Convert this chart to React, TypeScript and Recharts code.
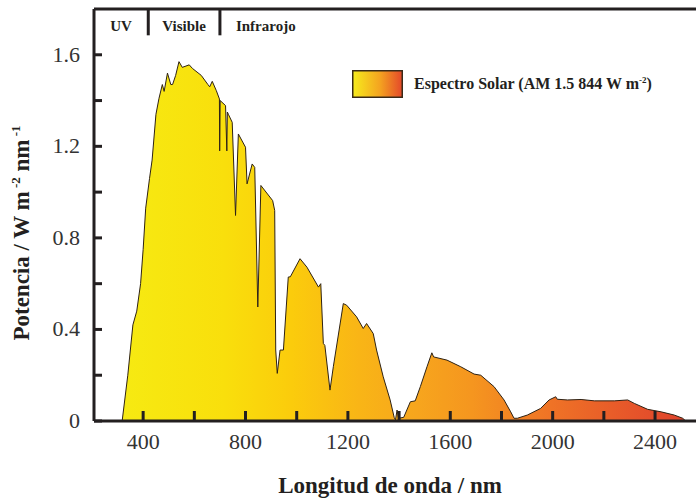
import React from 'react';
import { AreaChart, Area, XAxis, YAxis, ReferenceLine, ReferenceArea, Legend } from 'recharts';

// ---- data ----
const WAVELENGTHS = [
  318, 340, 360, 375, 390, 400, 410, 425, 435, 450, 462, 475, 482, 495, 508, 515, 527, 540, 553, 580,
  593, 627, 653, 660, 670, 686, 698, 699, 701, 722, 727, 729, 733, 748, 761, 772, 800, 806, 826, 836,
  848, 860, 906, 914, 918, 924, 935, 948, 967, 975, 1013, 1040, 1085, 1094, 1104, 1110, 1130, 1143, 1182, 1195,
  1234, 1260, 1273, 1299, 1312, 1338, 1365, 1381, 1386, 1392, 1398, 1418, 1444, 1463, 1483, 1509, 1528, 1535, 1587, 1641,
  1693, 1719, 1771, 1810, 1836, 1849, 1862, 1901, 1953, 1986, 2012, 2018, 2058, 2111, 2163, 2241, 2293, 2319, 2371, 2424,
  2475, 2508, 2520,
];
const POWER = [
  0, 0.2, 0.42, 0.48, 0.6, 0.75, 0.93, 1.06, 1.14, 1.34, 1.41, 1.47, 1.44, 1.52, 1.47, 1.47, 1.51, 1.57, 1.545, 1.556,
  1.54, 1.51, 1.47, 1.46, 1.484, 1.443, 1.407, 1.18, 1.4, 1.378, 1.18, 1.35, 1.34, 1.305, 0.898, 1.254, 1.196, 1.036, 1.123, 1.108,
  0.498, 1.029, 0.963, 0.92, 0.31, 0.208, 0.31, 0.31, 0.629, 0.63, 0.709, 0.672, 0.585, 0.6, 0.339, 0.33, 0.135, 0.237, 0.513, 0.506,
  0.455, 0.404, 0.426, 0.382, 0.31, 0.193, 0.092, 0.015, 0.005, 0.048, 0.012, 0.016, 0.084, 0.088, 0.15, 0.237, 0.298, 0.28, 0.266, 0.237,
  0.205, 0.2, 0.15, 0.092, 0.04, 0.012, 0.012, 0.026, 0.055, 0.092, 0.106, 0.095, 0.092, 0.094, 0.088, 0.088, 0.092, 0.077, 0.051, 0.04,
  0.026, 0.012, 0,
];

const X_DOMAIN = [208, 2560];
const X_TICKS = [400, 600, 800, 1000, 1200, 1400, 1600, 1800, 2000, 2200, 2400];
const X_LABELED = [400, 800, 1200, 1600, 2000, 2400];
const Y_DOMAIN = [0, 1.8];
const Y_TICKS = [0, 0.2, 0.4, 0.6, 0.8, 1.0, 1.2, 1.4, 1.6];
const Y_LABELED = ['0', '0.4', '0.8', '1.2', '1.6'];

const REGION_BOUNDARIES = [420, 700];
const REGION_TOP = 1.8;
const REGION_DIVIDER_BOTTOM = 1.685;
const REGION_LABEL_BOTTOM = 1.65;
const REGIONS = [
  { name: 'UV', x1: 208, x2: 420, pos: 'center' },
  { name: 'Visible', x1: 420, x2: 700, pos: 'center' },
  { name: 'Infrarojo', x1: 700, x2: 2560, pos: 'insideLeft' },
];

const SERIES_NAME = 'Espectro Solar (AM 1.5 844 W m';
const SERIES_SUP = '-2';
const X_LABEL = 'Longitud de onda / nm';

const data = WAVELENGTHS.map((nm, i) => ({ nm, power: POWER[i] }));

const FONT = "'Liberation Serif', 'Times New Roman', serif";
const INK = '#231f20';
const TICK_MARGIN = 10;

const GRADIENT_STOPS = [
  { offset: '0%', color: '#f6ea12' },
  { offset: '18%', color: '#f9df0c' },
  { offset: '30%', color: '#fbcc0c' },
  { offset: '42%', color: '#f9b516' },
  { offset: '52%', color: '#f7a61d' },
  { offset: '62%', color: '#f5961f' },
  { offset: '76%', color: '#ef7326' },
  { offset: '94%', color: '#e44e2b' },
  { offset: '100%', color: '#df432b' },
];

const XTick = (props: any) => {
  const { x, y, payload } = props;
  const axisY = y - TICK_MARGIN;
  const show = X_LABELED.includes(payload.value);
  return (
    <g>
      <line x1={x} x2={x} y1={axisY} y2={axisY - 10} stroke={INK} strokeWidth={3} />
      {show && (
        <text x={x} y={axisY + 28} textAnchor="middle" fontFamily={FONT} fontSize={22} fill="#333">
          {payload.value}
        </text>
      )}
    </g>
  );
};

const YTick = (props: any) => {
  const { x, y, payload } = props;
  const axisX = x + TICK_MARGIN;
  const label = String(Math.round(payload.value * 10) / 10);
  const show = Y_LABELED.includes(label);
  return (
    <g>
      <line x1={axisX} x2={axisX + 8} y1={y} y2={y} stroke={INK} strokeWidth={3} />
      {show && (
        <text x={axisX - 14} y={y + 7} textAnchor="end" fontFamily={FONT} fontSize={22} fill="#333">
          {label}
        </text>
      )}
    </g>
  );
};

const YLabel = (props: any) => {
  const vb = props.viewBox || { x: 0, y: 9, width: 94, height: 412 };
  const cx = vb.x + 29;
  const cy = vb.y + vb.height / 2 + 18;
  return (
    <text
      transform={`translate(${cx},${cy}) rotate(-90)`}
      textAnchor="middle"
      fontFamily={FONT}
      fontSize={23}
      fontWeight="bold"
      fill={INK}
    >
      Potencia / W m<tspan dy={-9} fontSize={13}> -2</tspan>
      <tspan dy={9}> nm</tspan>
      <tspan dy={-9} fontSize={13}> -1</tspan>
    </text>
  );
};

const XLabel = (props: any) => {
  const vb = props.viewBox || { x: 94, y: 421, width: 602, height: 80 };
  return (
    <text
      x={vb.x + vb.width / 2 - 5}
      y={vb.y + 72}
      textAnchor="middle"
      fontFamily={FONT}
      fontSize={23}
      fontWeight="bold"
      fill={INK}
    >
      {X_LABEL}
    </text>
  );
};

const LegendContent = () => (
  <div style={{ display: 'flex', alignItems: 'center', fontFamily: FONT, fontWeight: 'bold', fontSize: 16, color: INK }}>
    <svg width={51} height={28} style={{ display: 'block' }}>
      <defs>
        <linearGradient id="legendFill" x1="0" y1="0" x2="1" y2="0">
          <stop offset="0%" stopColor="#f7ec1c" />
          <stop offset="55%" stopColor="#f4a320" />
          <stop offset="100%" stopColor="#e4482a" />
        </linearGradient>
      </defs>
      <rect x={0.75} y={0.75} width={49.5} height={26.5} fill="url(#legendFill)" stroke="#3a2a18" strokeWidth={1.5} />
    </svg>
    <span style={{ marginLeft: 11, whiteSpace: 'nowrap' }}>
      {SERIES_NAME}
      <sup style={{ fontSize: 9 }}>{SERIES_SUP}</sup>)
    </span>
  </div>
);

export default function App() {
  return (
    <div style={{ position: 'absolute', left: 0, top: 0, background: '#fff' }}>
      <AreaChart width={696} height={501} data={data} margin={{ top: 9, right: 0, bottom: 0, left: 0 }}>
        <defs>
          <linearGradient id="solarFill" x1="0" y1="0" x2="1" y2="0">
            {GRADIENT_STOPS.map((s) => (
              <stop key={s.offset} offset={s.offset} stopColor={s.color} />
            ))}
          </linearGradient>
        </defs>
        <Area
          type="linear"
          dataKey="power"
          name={SERIES_NAME}
          fill="url(#solarFill)"
          fillOpacity={1}
          stroke="#2e2214"
          strokeWidth={1}
          dot={false}
          activeDot={false}
          isAnimationActive={false}
        />
        <XAxis
          dataKey="nm"
          type="number"
          domain={X_DOMAIN}
          allowDataOverflow
          ticks={X_TICKS}
          interval={0}
          tickSize={0}
          tickMargin={TICK_MARGIN}
          tickLine={false}
          tick={<XTick />}
          axisLine={{ stroke: INK, strokeWidth: 3 }}
          height={80}
          label={<XLabel />}
        />
        <YAxis
          type="number"
          domain={Y_DOMAIN}
          allowDataOverflow
          ticks={Y_TICKS}
          interval={0}
          tickSize={0}
          tickMargin={TICK_MARGIN}
          tickLine={false}
          tick={<YTick />}
          axisLine={{ stroke: INK, strokeWidth: 3 }}
          width={94}
          label={<YLabel />}
        />
        <ReferenceLine y={REGION_TOP} stroke={INK} strokeWidth={3} />
        {REGION_BOUNDARIES.map((b) => (
          <ReferenceLine
            key={b}
            segment={[{ x: b, y: REGION_TOP }, { x: b, y: REGION_DIVIDER_BOTTOM }]}
            stroke={INK}
            strokeWidth={3}
          />
        ))}
        {REGIONS.map((r) => (
          <ReferenceArea
            key={r.name}
            x1={r.x1}
            x2={r.x2}
            y1={REGION_LABEL_BOTTOM}
            y2={REGION_TOP}
            fill="none"
            fillOpacity={0}
            stroke="none"
            label={{
              value: r.name,
              position: r.pos as any,
              offset: 16,
              fontFamily: FONT,
              fontSize: 15,
              fontWeight: 'bold',
              fill: INK,
            }}
          />
        ))}
        <Legend
          layout="horizontal"
          verticalAlign="middle"
          align="center"
          content={<LegendContent />}
          wrapperStyle={{ top: 70, left: 352, width: 'auto' }}
        />
      </AreaChart>
    </div>
  );
}
